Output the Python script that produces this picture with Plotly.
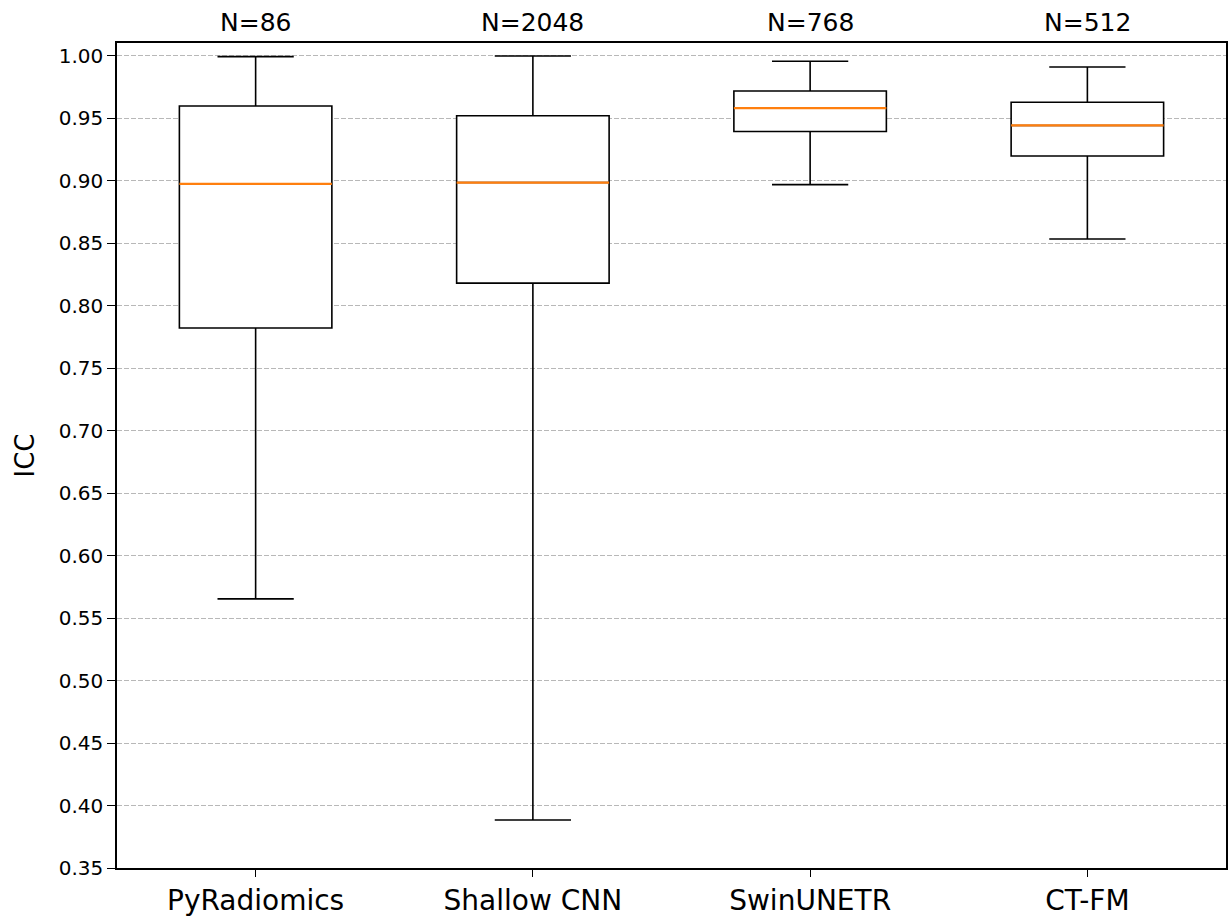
import plotly.graph_objects as go

# Feature-extractor summary statistics of ICC values
models = ["PyRadiomics", "Shallow CNN", "SwinUNETR", "CT-FM"]
counts = [86, 2048, 768, 512]
whisker_low = [0.5654, 0.3884, 0.8970, 0.8535]
q1 = [0.7823, 0.8182, 0.9396, 0.9200]
median = [0.8977, 0.8987, 0.9583, 0.9444]
q3 = [0.9600, 0.9522, 0.9720, 0.9630]
whisker_high = [0.9995, 1.0000, 0.9958, 0.9912]

positions = list(range(1, len(models) + 1))
n_labels = [f"N={n}" for n in counts]

FONT = "DejaVu Sans"
BOX_WIDTH = 0.55

fig = go.Figure()

# Boxes with whiskers (black outline, white fill)
fig.add_trace(go.Box(
    x=positions,
    q1=q1, median=median, q3=q3,
    lowerfence=whisker_low, upperfence=whisker_high,
    width=BOX_WIDTH,
    whiskerwidth=0.5,
    fillcolor="white",
    line=dict(color="black", width=1.6),
    boxpoints=False,
    hoverinfo="skip",
    showlegend=False,
))

# Median lines drawn on top in orange
fig.add_trace(go.Box(
    x=positions,
    q1=median, median=median, q3=median,
    lowerfence=median, upperfence=median,
    width=BOX_WIDTH,
    whiskerwidth=0,
    fillcolor="rgba(0,0,0,0)",
    line=dict(color="#ff7f0e", width=2.2),
    boxpoints=False,
    hoverinfo="skip",
    showlegend=False,
))

# Sample counts above each box
for pos, lab in zip(positions, n_labels):
    fig.add_annotation(
        x=pos, xref="x", y=1, yref="paper",
        text=lab, showarrow=False,
        yanchor="middle", yshift=21,
        font=dict(family=FONT, size=25, color="black"),
    )

# Y axis label
fig.add_annotation(
    x=0, xref="paper", y=0.5, yref="paper",
    xshift=-93, text="ICC", textangle=-90, showarrow=False,
    xanchor="center", yanchor="middle",
    font=dict(family=FONT, size=26, color="black"),
)

fig.update_layout(
    width=1228, height=917,
    margin=dict(l=117, r=0, t=43, b=48),
    plot_bgcolor="white", paper_bgcolor="white",
    boxmode="overlay",
    font=dict(family=FONT, color="black"),
)

fig.update_xaxes(
    range=[0.5, 4.5],
    tickvals=positions, ticktext=models,
    tickfont=dict(family=FONT, size=28, color="black"),
    ticks="outside", ticklen=7, tickwidth=1.3, tickcolor="black",
    showline=True, linecolor="black", linewidth=1.5, mirror=True,
    showgrid=False, zeroline=False,
)

fig.update_yaxes(
    range=[0.35, 1.0104],
    tick0=0.35, dtick=0.05, tickformat=".2f",
    tickfont=dict(family=FONT, size=20, color="black"),
    ticks="outside", ticklen=8, tickwidth=1.3, tickcolor="black",
    showline=True, linecolor="black", linewidth=1.5, mirror=True,
    showgrid=True, gridcolor="#b8b8b8", gridwidth=1, griddash="5px,2px",
    zeroline=False,
)

fig.write_html("out.html")
